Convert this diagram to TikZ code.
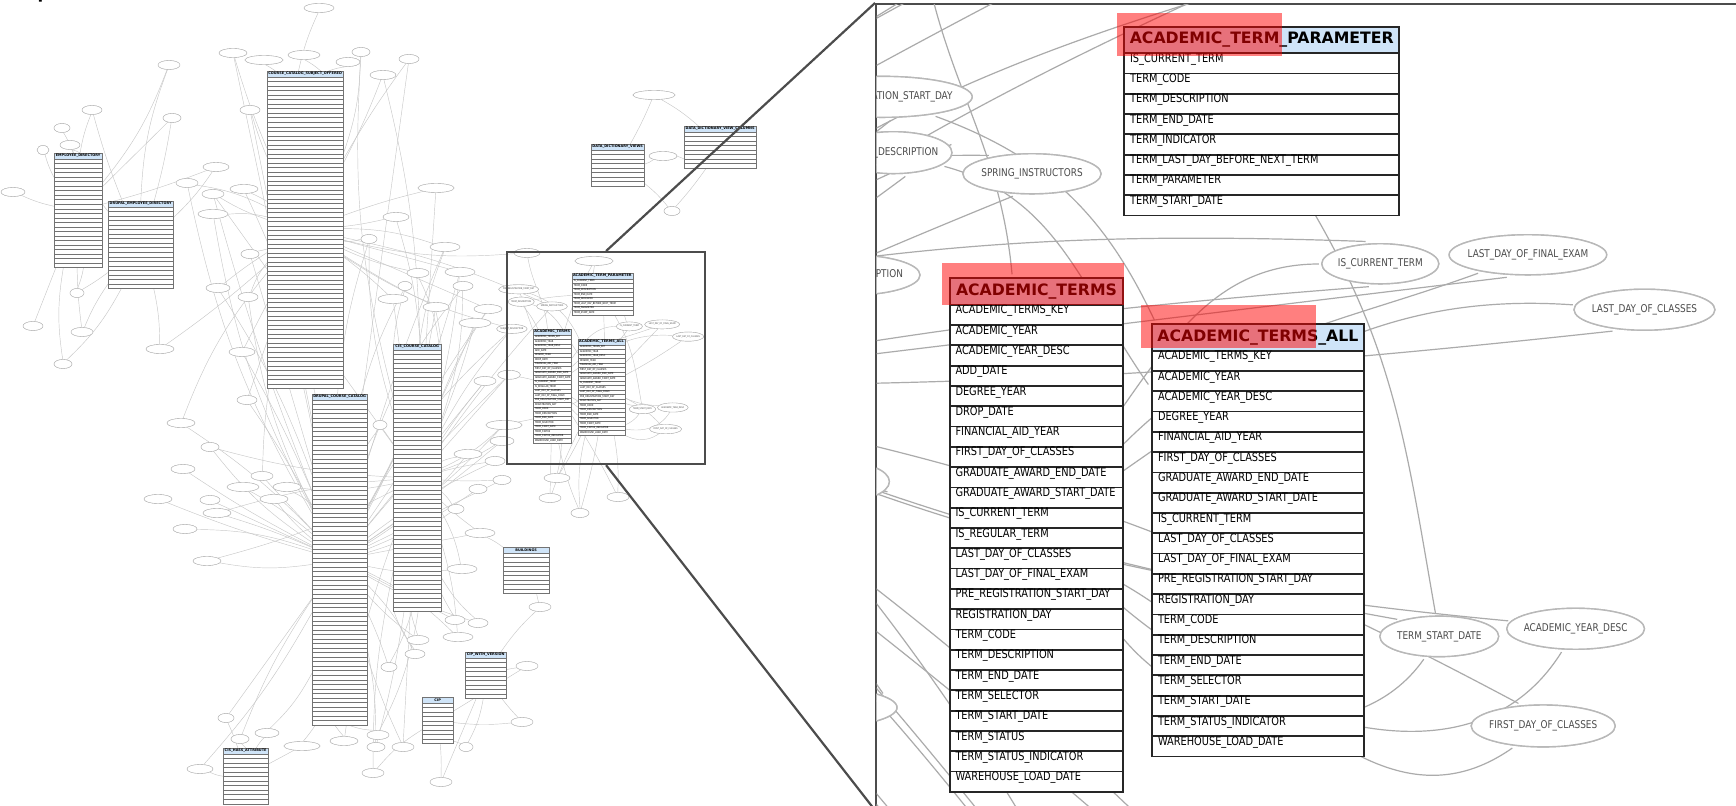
\documentclass[tikz,border=0pt]{standalone}
\usepackage{fontspec}
\usepackage{tikz}
\usetikzlibrary{shapes.geometric}

\newfontfamily\erdsans{DejaVu Sans}[FakeStretch=0.83]
\newfontfamily\erdtitle{DejaVu Sans}

\definecolor{hdrblue}{HTML}{CFE4F8}

\tikzset{
  erdborder/.style={draw=black!55, line width=0.16pt},
  ellborder/.style={draw=black!30, line width=0.2pt},
  erdedge/.style={draw=black!22, line width=0.22pt},
  tblbody/.style={rectangle, inner sep=0pt, anchor=north west},
  tblhead/.style={rectangle, inner sep=0pt, anchor=north west, minimum height=2.95pt,
    fill=hdrblue, erdborder, font=\erdtitle\bfseries\fontsize{1.745pt}{2pt}\selectfont},
  tblrow/.style={rectangle, inner sep=0pt, anchor=north west, minimum height=2.255pt,
    fill=white, erdborder},
  tbltext/.style={inner sep=0pt, anchor=west, font=\erdsans\fontsize{1.31pt}{1.6pt}\selectfont},
  fieldell/.style={ellipse, inner sep=0pt, fill=white, ellborder, text=black!70,
    font=\erdsans\fontsize{1.19pt}{1.4pt}\selectfont},
  spyframe/.style={rectangle, draw=black!70, line width=1.1pt, inner sep=0pt},
  spyline/.style={draw=black!70, line width=1.1pt},
}

\newif\iferdshow
\catcode`\_=12

% table: name, x, y, width, title, number of rows
\newcommand{\erdtable}[6]{%
  \node[tblbody, minimum width=#4, minimum height={2.95pt+#6*2.255pt}] (#1) at (#2,#3) {};
  \iferdshow
    \node[tblhead, minimum width=#4] (#1-h) at (#2,#3) {#5};
    \foreach \k in {1,...,#6}
      \node[tblrow, minimum width=#4] (#1-r\k) at (#2,{#3+5.9+(\k-1)*4.51}) {};
  \fi}

% column names written into a table
\newcommand{\erdfields}[4]{%
  \iferdshow
    \foreach \f [count=\k] in {#4}
      \node[tbltext] (#1-t\k) at ({#2+1.8},{#3+5.9+(\k-0.5)*4.51}) {\f};
  \fi}

% column ellipse: name, x, y, width, height, text
\newcommand{\erdfield}[6]{%
  \node[fieldell, minimum width=#4, minimum height=#5] (#1) at (#2,#3) {\makebox[0pt]{#6}};}

\newcommand{\erdnodes}{%
  % tables
  \erdtable{ed}{54}{153}{24pt}{EMPLOYEE_DIRECTORY}{24}
  \erdtable{ded}{108}{201}{32.5pt}{DRUPAL_EMPLOYEE_DIRECTORY}{18}
  \erdtable{ccso}{267}{71}{38pt}{COURSE_CATALOG_SUBJECT_OFFERED}{69}
  \erdtable{dcc}{312}{394}{27.5pt}{DRUPAL_COURSE_CATALOG}{72}
  \erdtable{cis}{393}{344}{24pt}{CIS_COURSE_CATALOG}{58}
  \erdtable{hass}{223}{748}{22.5pt}{CIS_HASS_ATTRIBUTE}{11}
  \erdtable{ddv}{591}{144}{26.5pt}{DATA_DICTIONARY_VIEWS}{8}
  \erdtable{ddvc}{684}{126}{36pt}{DATA_DICTIONARY_VIEW_COLUMNS}{8}
  \erdtable{bld}{503}{547}{23pt}{BUILDINGS}{9}
  \erdtable{cipv}{465}{652}{20.5pt}{CIP_WITH_VERSION}{9}
  \erdtable{cip}{422}{697}{15.5pt}{CIP}{9}
  \erdtable{param}{571.6}{272.8}{30.55pt}{ACADEMIC_TERM_PARAMETER}{8}
  \erdfields{param}{571.6}{272.8}{IS_CURRENT_TERM,TERM_CODE,TERM_DESCRIPTION,TERM_END_DATE,TERM_INDICATOR,TERM_LAST_DAY_BEFORE_NEXT_TERM,TERM_PARAMETER,TERM_START_DATE}
  \erdtable{terms}{532.8}{328.7}{19.3pt}{ACADEMIC_TERMS}{24}
  \erdfields{terms}{532.8}{328.7}{ACADEMIC_TERMS_KEY,ACADEMIC_YEAR,ACADEMIC_YEAR_DESC,ADD_DATE,DEGREE_YEAR,DROP_DATE,FINANCIAL_AID_YEAR,FIRST_DAY_OF_CLASSES,GRADUATE_AWARD_END_DATE,GRADUATE_AWARD_START_DATE,IS_CURRENT_TERM,IS_REGULAR_TERM,LAST_DAY_OF_CLASSES,LAST_DAY_OF_FINAL_EXAM,PRE_REGISTRATION_START_DAY,REGISTRATION_DAY,TERM_CODE,TERM_DESCRIPTION,TERM_END_DATE,TERM_SELECTOR,TERM_START_DATE,TERM_STATUS,TERM_STATUS_INDICATOR,WAREHOUSE_LOAD_DATE}
  \erdtable{all}{577.8}{338.9}{23.5pt}{ACADEMIC_TERMS_ALL}{20}
  \erdfields{all}{577.8}{338.9}{ACADEMIC_TERMS_KEY,ACADEMIC_YEAR,ACADEMIC_YEAR_DESC,DEGREE_YEAR,FINANCIAL_AID_YEAR,FIRST_DAY_OF_CLASSES,GRADUATE_AWARD_END_DATE,GRADUATE_AWARD_START_DATE,IS_CURRENT_TERM,LAST_DAY_OF_CLASSES,LAST_DAY_OF_FINAL_EXAM,PRE_REGISTRATION_START_DAY,REGISTRATION_DAY,TERM_CODE,TERM_DESCRIPTION,TERM_END_DATE,TERM_SELECTOR,TERM_START_DATE,TERM_STATUS_INDICATOR,WAREHOUSE_LOAD_DATE}
  % column ellipses of the overview
  \foreach \n/\x/\y/\w in {o1/319/8/15,o2/233/53/14,o3/264/60/19,o4/304/55/16,o5/361/52/9,
      o6/348/62/12,o7/409/59/10,o8/383/75/13,o9/169/65/11,o10/92/110/10,o11/172/118/9,
      o12/62/128/8,o13/70/145/10,o14/43/150/6,o15/250/110/10,o16/216/167/13,o17/187/183/11,
      o18/213/194/11,o19/244/189/14,o20/213/214/15,o21/13/192/12,o22/436/188/18,o23/396/217/13,
      o24/369/239/8,o25/250/254/9,o26/218/288/12,o27/248/297/10,o28/77/293/7,o29/33/326/10,
      o30/82/332/11,o31/63/364/9,o32/160/349/14,o33/242/352/13,o34/418/273/11,o35/405/286/7,
      o36/393/299/15,o37/436/307/13,o38/445/247/15,o39/247/400/10,o40/181/423/14,o41/210/447/9,
      o42/183/469/12,o43/262/476/11,o44/243/487/16,o45/287/487/14,o46/274/499/14,o47/158/499/14,
      o48/210/500/10,o49/217/513/14,o50/185/529/12,o51/207/561/14,o52/380/425/7,o53/418/640/11,
      o54/415/654/10,o55/389/667/8,o56/226/718/8,o57/240/739/9,o58/267/733/12,o59/302/746/18,
      o60/344/741/14,o61/378/735/11,o62/376/747/9,o63/403/747/11,o64/373/773/11,o65/200/769/13,
      o66/441/782/11,o67/654/95/21,o68/663/156/14,o69/672/211/8,o72/460/272/15,o73/463/286/10,
      o75/488/309/14,o76/475/323/16,o79/527/253/13,o80/594/261/19,o83/485/381/11,o86/502/441/12,
      o87/468/454/14,o88/495/461/10,o89/502/480/9,o90/478/489/9,o91/456/509/8,o92/557/478/13,
      o93/550/498/11,o94/580/513/9,o95/618/497/11,o96/480/533/15,o97/462/569/15,o98/540/607/11,
      o99/455/620/10,o100/478/623/10,o101/458/637/15,o102/527/666/11,o103/522/722/11,o104/466/747/7}
    \erdfield{\n}{\x}{\y}{\w pt}{4.5pt}{};
  % column ellipses round the term tables
  \erdfield{prereg}{518.7}{289.3}{20pt}{4.55pt}{PRE_REGISTRATION_START_DAY}
  \erdfield{tdesc}{521.2}{301.7}{13pt}{4.65pt}{TERM_DESCRIPTION}
  \erdfield{subjdesc}{511.9}{328.9}{15.2pt}{4.45pt}{SUBJECT_DESCRIPTION}
  \erdfield{spring}{552}{306.4}{15.35pt}{4.45pt}{SPRING_INSTRUCTORS}
  \erdfield{curterm}{629.4}{326.4}{13pt}{4.45pt}{IS_CURRENT_TERM}
  \erdfield{finalex}{662.2}{324.4}{17.5pt}{4.45pt}{LAST_DAY_OF_FINAL_EXAM}
  \erdfield{lastcls}{688.1}{336.6}{15.65pt}{4.55pt}{LAST_DAY_OF_CLASSES}
  \erdfield{tstart}{642.5}{409.2}{13.2pt}{4.5pt}{TERM_START_DATE}
  \erdfield{acyd}{672.8}{407.5}{15.3pt}{4.55pt}{ACADEMIC_YEAR_DESC}
  \erdfield{firstday}{665.6}{429.1}{16pt}{4.65pt}{FIRST_DAY_OF_CLASSES}
  \erdfield{lftone}{509}{374.8}{11.3pt}{4.5pt}{}
  \erdfield{lfttwo}{504}{425}{18pt}{4.5pt}{}
}

\newcommand{\erdedges}{%
  \foreach \a/\b [count=\i] in {o1/ccso,o2/ccso,o2/dcc,o3/ccso,o4/ccso,o5/ccso,o5/cis,o6/ccso,
      o7/ccso,o7/dcc,o8/ccso,o8/cis,o9/ed,o9/ded,o10/ed,o10/ded,o11/ed,o11/ded,o12/ed,o13/ed,
      o13/ded,o14/ed,o15/ccso,o15/dcc,o16/ed,o16/ded,o17/ccso,o17/dcc,o18/ccso,o18/dcc,o18/cis,
      o19/ccso,o19/dcc,o20/ccso,o20/dcc,o21/ed,o22/ccso,o22/cis,o23/ccso,o23/cis,o24/ccso,o24/cis,
      o24/dcc,o25/ccso,o25/dcc,o26/ccso,o26/dcc,o27/ccso,o27/dcc,o28/ed,o28/ded,o29/ed,o30/ed,
      o30/ded,o31/ed,o31/ded,o32/ded,o32/ccso,o33/ccso,o33/dcc,o34/ccso,o34/cis,o35/cis,o35/dcc,
      o36/ccso,o36/cis,o37/ccso,o37/cis,o37/dcc,o38/ccso,o38/cis,o38/dcc,o39/ccso,o39/dcc,
      o40/dcc,o40/ccso,o41/dcc,o41/cis,o42/dcc,o43/dcc,o43/ccso,o44/dcc,o45/dcc,o45/cis,o46/dcc,
      o47/dcc,o48/dcc,o49/dcc,o49/cis,o50/dcc,o51/dcc,o51/cis,o52/dcc,o52/cis,o53/cis,o53/dcc,
      o54/cis,o54/dcc,o55/cis,o55/dcc,o56/dcc,o56/hass,o57/dcc,o57/hass,o58/dcc,o58/hass,
      o59/dcc,o59/hass,o60/dcc,o60/cis,o61/dcc,o61/cis,o62/dcc,o62/cis,o63/cis,o63/dcc,o64/cis,
      o64/cip,o65/hass,o65/dcc,o66/cip,o66/cipv,o67/ddv,o67/ddvc,o68/ddv,o68/ddvc,o69/ddv,
      o69/ddvc,o72/ccso,o72/cis,o72/dcc,o73/cis,o73/dcc,o75/cis,o75/dcc,o75/ccso,o76/cis,o76/dcc,
      o79/ccso,o80/param,o80/terms,o83/cis,o83/dcc,o86/dcc,o86/cis,o87/dcc,o87/cis,
      o88/dcc,o88/cis,o89/dcc,o89/cis,o90/dcc,o91/dcc,o91/cis,o92/terms,o92/all,o93/terms,
      o93/all,o94/terms,o94/all,o94/param,o95/all,o95/terms,o96/dcc,o96/cis,o96/bld,o97/dcc,
      o97/cis,o98/cipv,o98/bld,o99/dcc,o99/cis,o100/dcc,o100/cis,o101/dcc,o101/cis,o102/cipv,
      o102/cip,o103/cipv,o103/cip,o104/cip,o104/cipv,
      curterm/param,curterm/all,finalex/all,lastcls/all,tstart/all,acyd/all,firstday/all,
      spring/ccso,spring/cis,prereg/terms,tdesc/param,tdesc/terms,
      subjdesc/ccso,subjdesc/dcc,subjdesc/cis,lftone/dcc,lftone/cis,lftone/terms,
      lfttwo/dcc,lfttwo/cis,lfttwo/all}{%
    \pgfmathsetmacro\erdbend{mod(\i,7)*3-9}%
    \draw[erdedge] (\a) to[bend left=\erdbend] (\b);}
  % long curves round the term tables
  \foreach \a/\b/\p/\q in {curterm/terms/180/55,lastcls/terms/176/35,finalex/terms/200/45,
      tstart/terms/235/-50,acyd/terms/238/-40,firstday/terms/215/-30,tstart/param/100/-60,
      prereg/all/-20/115,tdesc/all/-15/125,o79/terms/-80/95}
    \draw[erdedge] (\a) to[out=\p, in=\q] (\b);
}

% nodes once to name them, edges, nodes again on top
\newcommand{\erdgraph}{%
  \erdshowfalse\erdnodes
  \erdedges
  \erdshowtrue\erdnodes}

\begin{document}
\begin{tikzpicture}[x=0.5pt, y=-0.5pt]
  \useasboundingbox (0,0) rectangle (1736,806);
  \node[anchor=base west, inner sep=0pt, font=\erdtitle\fontsize{16pt}{18pt}\selectfont] (pagetitle) at (36,-4.3) {p};

  % whole schema
  \erdgraph

  % magnified part
  \node[spyframe, fill=white, anchor=north west, minimum width=435pt, minimum height=402.5pt] (spyview) at (875,3) {};
  \begin{scope}
    \clip (876.5,4.5) rectangle (1736,806);
    \begin{scope}[shift={(-1452,-1205)}, scale=4.5, transform shape, name prefix=zm-,
        erdborder/.style={draw=black!85, line width=0.9pt},
        ellborder/.style={draw=black!28, line width=0.7pt},
        erdedge/.style={draw=black!33, line width=0.6pt}]
      \erdgraph
    \end{scope}
    \fill[red, opacity=0.5] (1117,13) rectangle (1282,56);
    \fill[red, opacity=0.5] (942,263) rectangle (1124,305);
    \fill[red, opacity=0.5] (1141,305) rectangle (1316,348);
  \end{scope}

  \node[spyframe, anchor=north west, minimum width=99pt, minimum height=106pt] (spyarea) at (506,251) {};
  \draw[spyline] (spyarea.north) -- (spyview.north west);
  \draw[spyline] (spyarea.south) -- (spyview.south west);
\end{tikzpicture}
\end{document}
